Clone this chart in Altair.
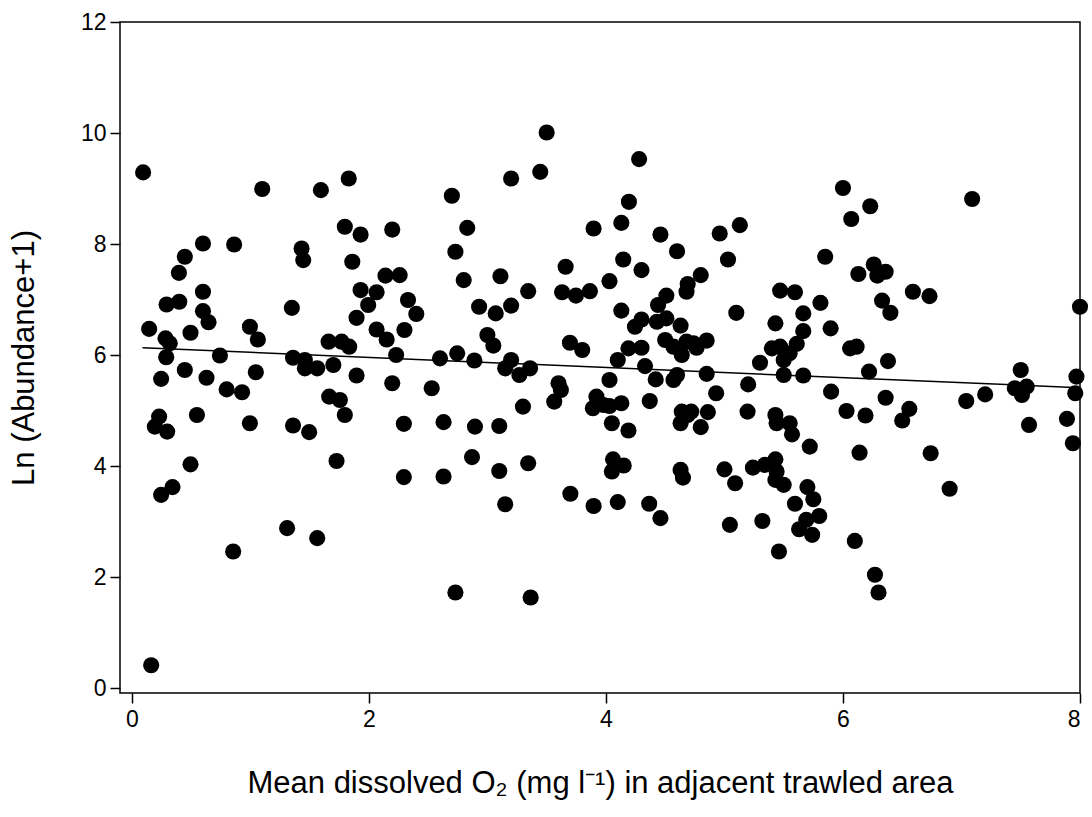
import altair as alt
import pandas as pd

# Mean dissolved O2 (x) and Ln(Abundance+1) (y)
o2 = [
    0.095, 1.10, 1.595, 1.83, 2.70, 2.73, 0.60, 0.863, 0.447, 0.397,
    1.432, 1.446, 1.797, 1.93, 2.197, 1.86, 2.14, 2.26, 0.60, 0.293,
    0.40, 0.60, 0.647, 0.146, 0.495, 0.284, 0.32, 0.29, 0.247, 0.447,
    0.63, 0.743, 0.996, 1.063, 1.046, 0.80, 0.93, 1.35, 1.36, 1.46,
    1.46, 1.564, 1.70, 1.66, 1.77, 1.834, 1.896, 1.665, 1.755, 1.93,
    2.065, 1.994, 1.896, 2.065, 2.15, 2.30, 2.33, 2.40, 2.23, 2.60,
    2.197, 2.53, 0.23, 0.194, 0.298, 0.549, 0.996, 1.36, 1.496, 1.797,
    2.295, 2.63, 0.495, 0.343, 0.247, 1.727, 2.295, 2.63, 1.31, 1.564,
    0.855, 0.163, 3.50, 3.20, 3.446, 4.28, 2.83, 2.80, 4.194, 3.896,
    4.13, 4.46, 4.60, 4.96, 5.13, 5.03, 3.66, 4.146, 4.30, 3.11,
    3.344, 3.63, 3.747, 3.865, 4.03, 2.93, 3.07, 3.20, 3.00, 3.05,
    4.13, 4.44, 4.51, 4.69, 4.68, 4.80, 5.10, 4.30, 4.245, 4.43,
    4.51, 4.63, 3.696, 3.80, 4.19, 4.30, 4.50, 4.57, 4.68, 4.74,
    4.85, 4.64, 4.765, 2.745, 2.89, 3.20, 3.15, 3.27, 3.36, 4.10,
    4.33, 4.42, 4.57, 4.60, 4.85, 5.30, 5.20, 4.93, 3.60, 3.62,
    3.564, 4.03, 3.92, 4.37, 3.30, 6.00, 6.23, 6.07, 7.09, 5.85,
    6.26, 6.36, 6.13, 6.29, 6.59, 6.73, 6.33, 6.40, 5.47, 5.595,
    5.81, 5.665, 5.43, 5.665, 5.896, 5.61, 5.40, 5.47, 5.55, 5.50,
    6.06, 6.115, 6.38, 6.22, 5.50, 5.665, 5.90, 6.36, 7.50, 7.45,
    7.55, 7.51, 7.20, 7.04, 8.00, 7.97, 7.96, 2.895, 3.10, 3.89,
    3.98, 4.03, 4.13, 4.05, 4.19, 4.64, 4.72, 4.69, 4.63, 4.80,
    4.86, 5.195, 2.87, 3.10, 3.344, 3.15, 4.06, 4.15, 4.05, 4.63,
    4.65, 5.00, 5.09, 5.24, 5.34, 3.70, 3.896, 4.10, 4.365, 4.46,
    5.046, 5.32, 2.73, 3.365, 6.03, 6.19, 6.56, 6.50, 7.57, 7.89,
    7.94, 5.43, 5.55, 5.57, 5.44, 5.72, 6.14, 6.74, 6.90, 5.43,
    5.44, 5.43, 5.50, 5.70, 5.75, 5.595, 5.80, 5.69, 5.63, 5.74,
    5.46, 6.10, 6.27, 6.30,
]
ln_abund = [
    9.29, 8.99, 8.97, 9.18, 8.87, 7.86, 8.01, 7.99, 7.77, 7.48,
    7.92, 7.71, 8.31, 8.17, 8.26, 7.68, 7.43, 7.44, 7.14, 6.91,
    6.96, 6.79, 6.59, 6.47, 6.40, 6.30, 6.21, 5.96, 5.57, 5.73,
    5.59, 5.99, 6.51, 6.28, 5.69, 5.38, 5.33, 6.85, 5.95, 5.91,
    5.76, 5.76, 5.82, 6.24, 6.24, 6.15, 5.63, 5.25, 5.19, 7.17,
    7.13, 6.90, 6.67, 6.46, 6.28, 6.45, 6.99, 6.74, 6.00, 5.94,
    5.49, 5.40, 4.89, 4.71, 4.62, 4.92, 4.77, 4.73, 4.61, 4.92,
    4.76, 4.79, 4.03, 3.62, 3.48, 4.09, 3.80, 3.81, 2.88, 2.70,
    2.46, 0.41, 10.01, 9.18, 9.30, 9.53, 8.29, 7.35, 8.76, 8.28,
    8.38, 8.17, 7.87, 8.19, 8.34, 7.72, 7.59, 7.72, 7.53, 7.42,
    7.15, 7.13, 7.07, 7.15, 7.33, 6.87, 6.75, 6.89, 6.36, 6.17,
    6.80, 6.90, 7.07, 7.28, 7.14, 7.44, 6.76, 6.64, 6.51, 6.60,
    6.66, 6.53, 6.22, 6.09, 6.12, 6.13, 6.27, 6.15, 6.24, 6.21,
    6.26, 6.00, 6.13, 6.03, 5.90, 5.91, 5.76, 5.64, 5.76, 5.91,
    5.80, 5.56, 5.55, 5.64, 5.66, 5.86, 5.47, 5.31, 5.49, 5.37,
    5.16, 5.55, 5.25, 5.17, 5.07, 9.01, 8.68, 8.45, 8.81, 7.77,
    7.63, 7.50, 7.46, 7.43, 7.14, 7.06, 6.98, 6.76, 7.16, 7.13,
    6.94, 6.75, 6.57, 6.43, 6.48, 6.20, 6.12, 6.15, 6.03, 5.91,
    6.12, 6.15, 5.89, 5.70, 5.64, 5.63, 5.34, 5.23, 5.73, 5.40,
    5.43, 5.28, 5.29, 5.17, 6.87, 5.61, 5.31, 4.71, 4.72, 5.04,
    5.10, 5.08, 5.13, 4.77, 4.64, 4.98, 4.98, 4.92, 4.77, 4.70,
    4.97, 4.98, 4.16, 3.91, 4.05, 3.31, 4.12, 4.01, 3.90, 3.93,
    3.79, 3.94, 3.69, 3.97, 4.02, 3.50, 3.28, 3.35, 3.32, 3.06,
    2.94, 3.01, 1.72, 1.63, 4.99, 4.91, 5.03, 4.82, 4.74, 4.85,
    4.41, 4.92, 4.77, 4.57, 4.77, 4.35, 4.24, 4.23, 3.59, 4.12,
    3.90, 3.75, 3.66, 3.62, 3.40, 3.32, 3.10, 3.03, 2.86, 2.76,
    2.46, 2.65, 2.04, 1.72,
]

# fitted regression line (end points)
fit_x = [0.09, 8.0]
fit_y = [6.13, 5.41]

x_ticks = [0, 2, 4, 6, 8]
y_ticks = [0, 2, 4, 6, 8, 10, 12]

pts = pd.DataFrame({"o2": o2, "ln": ln_abund})
fit = pd.DataFrame({"o2": fit_x, "ln": fit_y})

FONT = "Liberation Sans"

x_scale = alt.Scale(domain=[-0.1, 8.0], nice=False, zero=False)
y_scale = alt.Scale(domain=[-0.09, 12.0], nice=False, zero=False)

x_axis = alt.Axis(
    values=x_ticks, title="Mean dissolved O\u2082 (mg l\u207b\u00b9) in adjacent trawled area",
    grid=False, domain=False, tickSize=10, tickWidth=1.5, tickColor="black",
    labelFontSize=23, labelFont=FONT, labelColor="black", labelPadding=5,
    titleFontSize=31, titleFont=FONT, titleFontWeight="normal", titleColor="black",
    titlePadding=37, format="d",
)
y_axis = alt.Axis(
    values=y_ticks, title="Ln (Abundance+1)",
    grid=False, domain=False, tickSize=10, tickWidth=1.5, tickColor="black",
    labelFontSize=23, labelFont=FONT, labelColor="black", labelPadding=4,
    titleFontSize=31, titleFont=FONT, titleFontWeight="normal", titleColor="black",
    titlePadding=40, format="d",
)

points = alt.Chart(pts).mark_circle(size=260, color="black", opacity=1).encode(
    x=alt.X("o2:Q", scale=x_scale, axis=x_axis),
    y=alt.Y("ln:Q", scale=y_scale, axis=y_axis),
)

line = alt.Chart(fit).mark_line(color="black", strokeWidth=1.5).encode(
    x=alt.X("o2:Q", scale=x_scale, axis=x_axis),
    y=alt.Y("ln:Q", scale=y_scale, axis=y_axis),
)

chart = alt.layer(line, points).properties(
    width=960,
    height=671,
    autosize=alt.AutoSizeParams(type="none"),
    padding={"left": 120, "top": 22, "right": 12, "bottom": 124},
    background="white",
).configure_view(
    stroke="black", strokeWidth=1.5,
)

chart.save("out.html", embed_options={"renderer": "svg", "actions": False})
